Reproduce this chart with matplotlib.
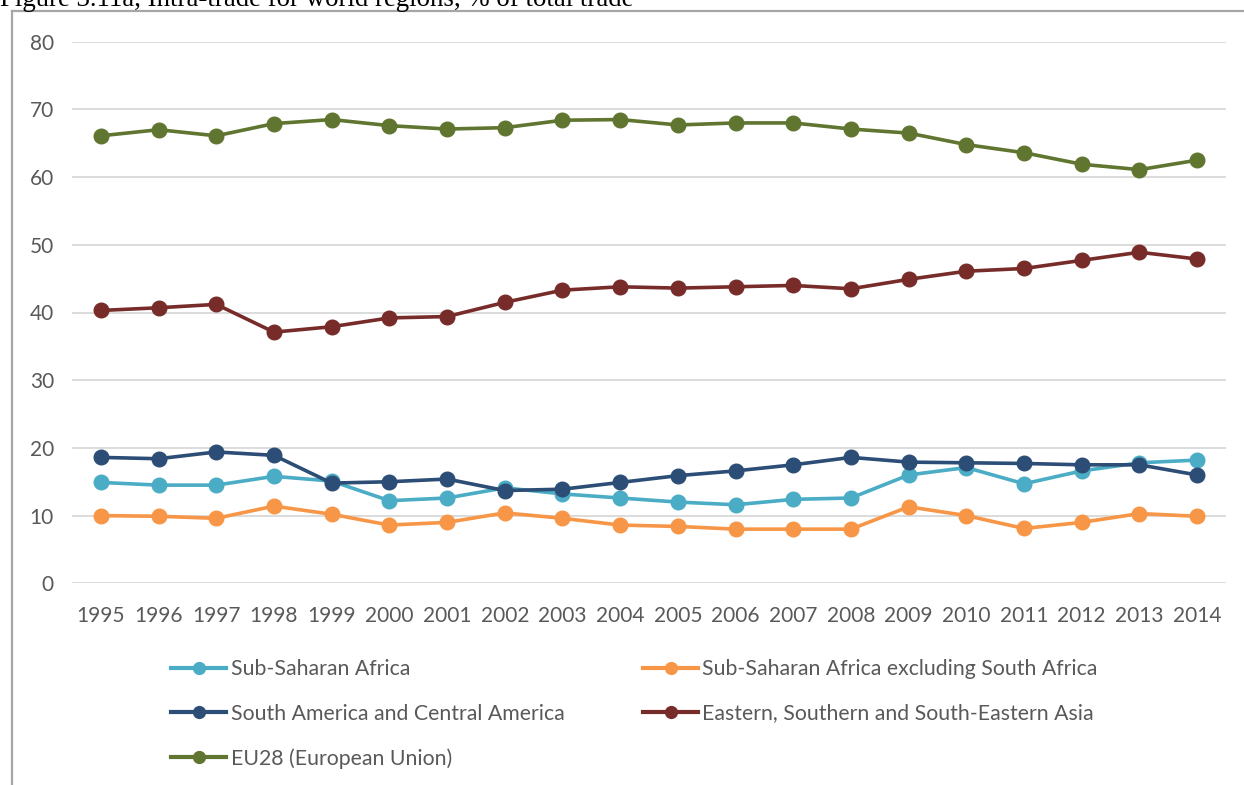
import matplotlib
matplotlib.use("Agg")
import matplotlib.pyplot as plt
from matplotlib.lines import Line2D

# Intra-regional trade as a share of total trade (%)
years = [str(y) for y in range(1995, 2015)]

sub_saharan = [14.9, 14.5, 14.5, 15.8, 15.1, 12.2, 12.6, 14.1, 13.2, 12.6,
               12.0, 11.6, 12.4, 12.6, 16.0, 17.1, 14.7, 16.6, 17.8, 18.2]
sub_saharan_ex_sa = [10.0, 9.9, 9.6, 11.4, 10.2, 8.6, 9.0, 10.4, 9.6, 8.6,
                     8.4, 8.0, 8.0, 8.0, 11.3, 10.0, 8.1, 9.0, 10.3, 9.9]
south_central_america = [18.6, 18.4, 19.4, 18.9, 14.8, 15.0, 15.4, 13.7, 13.9, 14.9,
                         15.9, 16.6, 17.5, 18.6, 17.9, 17.8, 17.7, 17.5, 17.5, 16.0]
east_south_se_asia = [40.3, 40.7, 41.2, 37.1, 37.9, 39.2, 39.4, 41.5, 43.3, 43.8,
                      43.6, 43.8, 44.0, 43.5, 44.9, 46.1, 46.5, 47.7, 48.9, 47.9]
eu28 = [66.1, 67.0, 66.1, 67.9, 68.5, 67.6, 67.1, 67.3, 68.4, 68.5,
        67.7, 68.0, 68.0, 67.1, 66.5, 64.8, 63.6, 61.9, 61.1, 62.5]

series_labels = ["Sub-Saharan Africa",
                 "Sub-Saharan Africa excluding South Africa",
                 "South America and Central America",
                 "Eastern, Southern and South-Eastern Asia",
                 "EU28 (European Union)"]
series_values = [sub_saharan, sub_saharan_ex_sa, south_central_america,
                 east_south_se_asia, eu28]
series_colors = ["#4bacc6", "#f79646", "#2c4d75", "#772c2a", "#5f7530"]

y_ticks = [0, 10, 20, 30, 40, 50, 60, 70, 80]

W, H = 1244, 785
fig = plt.figure(figsize=(W / 100, H / 100), dpi=100)

font = ["Lato", "DejaVu Sans"]
tick_color = "#595959"

ax = fig.add_axes([72 / W, 1 - 583.3 / H, (1226 - 72) / W, (583.3 - 41.7) / H])
xs = list(range(len(years)))

handles = []
for i, (label, vals, col) in enumerate(zip(series_labels, series_values, series_colors)):
    ax.plot(xs, vals, color=col, lw=2.6, marker="o", markersize=10.5,
            solid_joinstyle="round", zorder=3 + i, clip_on=False)
    handles.append(Line2D([], [], color=col, lw=3.0, marker="o", markersize=8.5,
                          label=label))

ax.set_xlim(-0.5, len(years) - 0.5)
ax.set_ylim(0, 80)
ax.set_yticks(y_ticks)
ax.set_xticks(xs)
ax.set_xticklabels(years)
ax.yaxis.grid(True, color="#d9d9d9", lw=1.3)
ax.set_axisbelow(True)
for s in ax.spines.values():
    s.set_visible(False)
ax.tick_params(axis="both", length=0, labelsize=15, labelcolor=tick_color)
ax.tick_params(axis="y", pad=13)
ax.tick_params(axis="x", pad=16)
for lab in ax.get_xticklabels() + ax.get_yticklabels():
    lab.set_family(font)

# Legend: two columns, filled column by column
order = [0, 2, 4, 1, 3]
leg = fig.legend([handles[i] for i in order], [series_labels[i] for i in order],
                 ncol=2, loc="upper left", bbox_to_anchor=(152 / W, 1 - 640 / H),
                 frameon=False, handlelength=2.6, handletextpad=0.2,
                 labelspacing=1.15, columnspacing=3.7,
                 prop={"family": font, "size": 15.3})
for t in leg.get_texts():
    t.set_color(tick_color)

# Chart frame (top and left edges)
frame_col = "#a6a6a6"
fig.add_artist(Line2D([12 / W, 12 / W], [0, 1 - 11 / H], transform=fig.transFigure,
                      color=frame_col, lw=1.6))
fig.add_artist(Line2D([12 / W, 1], [1 - 11 / H, 1 - 11 / H], transform=fig.transFigure,
                      color=frame_col, lw=1.6))

# Caption above the frame
fig.text(0.0, 1 - 6 / H, "Figure 3.11a, Intra-trade for world regions, % of total trade",
         family=["Liberation Serif", "DejaVu Serif"], fontsize=19.3, color="black",
         ha="left", va="baseline")

fig.savefig("out.png", dpi=100, facecolor="white")
